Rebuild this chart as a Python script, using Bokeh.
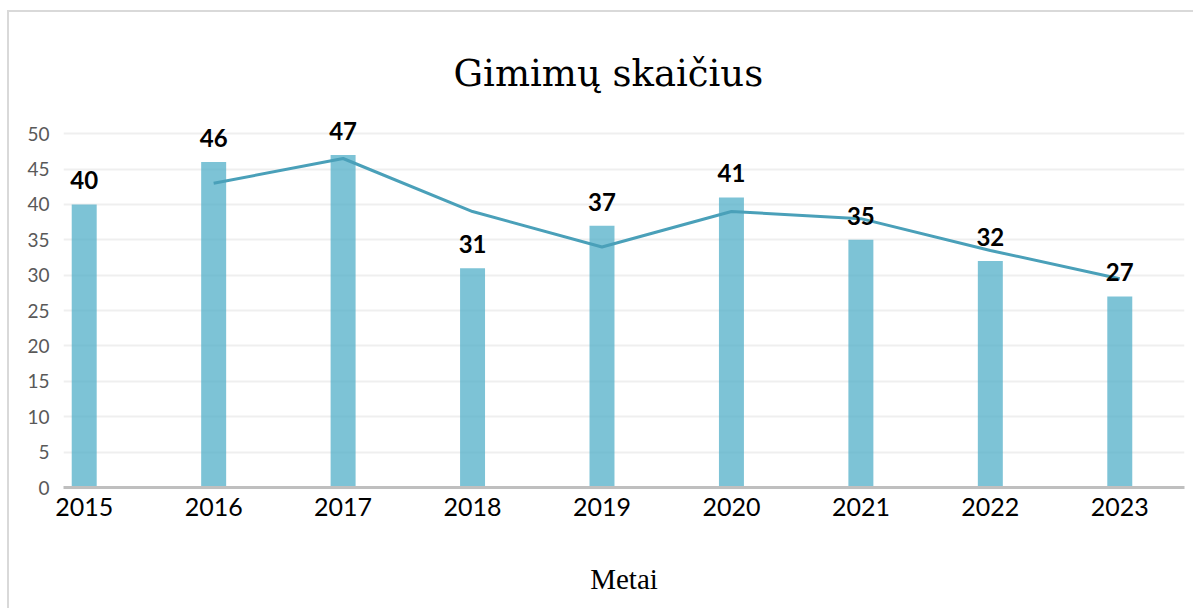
from bokeh.plotting import figure
from bokeh.models import ColumnDataSource, FixedTicker, Range1d, LabelSet
from bokeh.core.properties import value
from bokeh.embed import file_html
from bokeh.resources import INLINE

years = [2015, 2016, 2017, 2018, 2019, 2020, 2021, 2022, 2023]
births = [40, 46, 47, 31, 37, 41, 35, 32, 27]
trend_years = [2016, 2017, 2018, 2019, 2020, 2021, 2022, 2023]
trend_values = [43, 46.5, 39, 34, 39, 38, 33.5, 29.5]
y_ticks = [0, 5, 10, 15, 20, 25, 30, 35, 40, 45, 50]

src = ColumnDataSource(dict(x=years, y=births, lab=[str(v) for v in births]))

p = figure(width=1186, height=598, output_backend="svg", toolbar_location=None,
           x_range=Range1d(2014.84, 2023.5), y_range=Range1d(0, 53),
           title="Gimimų skaičius", x_axis_label="Metai")
p.margin = (10, 0, 0, 7)
p.styles = {"border-top": "2px solid #d9d9d9", "border-left": "2px solid #d9d9d9"}
p.min_border_left = 54
p.min_border_right = 11
p.min_border_top = 100
p.min_border_bottom = 123
p.outline_line_color = None
p.background_fill_color = "white"
p.border_fill_color = "white"

p.title.text_font = "DejaVu Serif"
p.title.text_font_size = "37px"
p.title.text_font_style = "normal"
p.title.align = "left"
p.title.offset = 390
p.title.text_color = "#000000"
p.title.standoff = 35

p.vbar(x="x", top="y", width=0.193, source=src, fill_color="#4bacc6", fill_alpha=0.72, line_color=None)
p.line(trend_years, trend_values, line_color="#4aa0b9", line_width=3)

labels = LabelSet(x="x", y="y", text="lab", source=src, text_align="center",
                  text_baseline="alphabetic", y_offset=15,
                  text_font=value("Lato"), text_font_size="24px", text_font_style="bold",
                  text_color="#000000")
p.add_layout(labels)

p.xaxis.ticker = FixedTicker(ticks=years)
p.xaxis.major_label_overrides = {y: str(y) for y in years}
p.xaxis.major_label_text_font = "Lato"
p.xaxis.major_label_text_font_size = "25px"
p.xaxis.major_label_text_color = "#000000"
p.xaxis.major_tick_line_color = None
p.xaxis.minor_tick_line_color = None
p.xaxis.axis_line_color = "#bfbfbf"
p.xaxis.axis_line_width = 3
p.xaxis.major_label_standoff = 4
p.xaxis.axis_label_text_font = "Liberation Serif"
p.xaxis.axis_label_text_font_size = "29px"
p.xaxis.axis_label_text_font_style = "normal"
p.xaxis.axis_label_text_color = "#000000"
p.xaxis.axis_label_standoff = 44

p.yaxis.ticker = FixedTicker(ticks=y_ticks)
p.yaxis.major_label_text_font = "Lato"
p.yaxis.major_label_text_font_size = "19px"
p.yaxis.major_label_text_color = "#595959"
p.yaxis.major_tick_line_color = None
p.yaxis.minor_tick_line_color = None
p.yaxis.axis_line_color = None
p.yaxis.major_label_standoff = 8

p.xgrid.grid_line_color = None
p.ygrid.grid_line_color = "#efefef"
p.ygrid.grid_line_width = 2

open("out.html", "w").write(file_html(p, INLINE))
